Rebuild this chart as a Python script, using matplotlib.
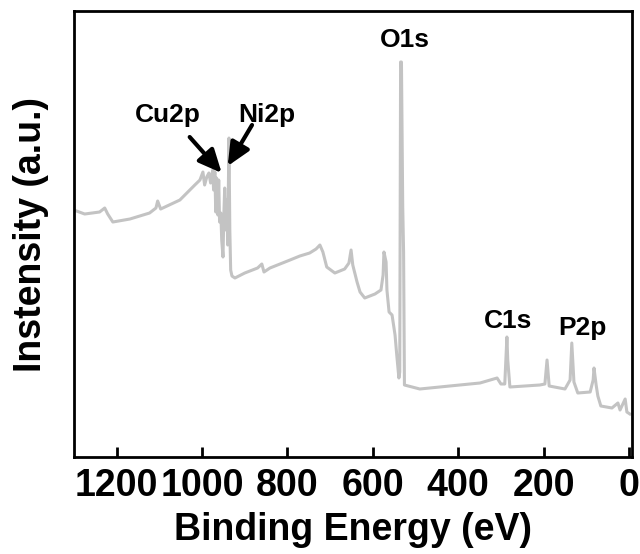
import matplotlib
matplotlib.use("Agg")
import matplotlib.pyplot as plt

# XPS survey spectrum
binding_energy = [
    1294, 1275, 1240, 1228, 1221, 1209, 1169, 1123, 1108, 1104, 1097, 1052,
    1017, 1005, 998, 994, 989, 984, 980, 975, 973, 970, 968, 966, 963, 961,
    959, 956, 954, 951, 949, 947, 944, 942, 940, 937, 935, 933, 930, 923,
    900, 870, 860, 855, 841, 794, 771, 748, 733, 724, 717, 708, 689, 666,
    656, 651, 647, 637, 630, 619, 595, 581, 576, 574, 569, 567, 562, 555,
    548, 544, 539, 537, 535, 533, 530, 528, 526, 490, 420, 349, 309, 300,
    291, 286, 284, 279, 209, 197, 192, 187, 150, 138, 134, 129, 120, 91,
    84, 82, 77, 73, 66, 40, 26, 21, 9, 5, -2,
]
intensity = [
    246, 243, 245, 249, 243, 235, 238, 244, 249, 256, 248, 257,
    272, 277, 285, 272, 280, 284, 274, 287, 267, 285, 245, 279, 242, 277,
    235, 244, 217, 200, 242, 269, 227, 257, 212, 319, 227, 187, 181, 179,
    184, 189, 193, 185, 189, 197, 201, 204, 208, 212, 205, 190, 184, 188,
    194, 207, 192, 175, 165, 159, 163, 167, 182, 205, 195, 167, 145, 142,
    122, 102, 79, 85, 395, 395, 250, 205, 72, 68, 71, 74, 79, 73,
    73, 120, 97, 70, 72, 73, 97, 71, 68, 77, 114, 75, 64, 65,
    77, 89, 72, 61, 51, 49, 54, 47, 58, 45, 43,
]

peak_labels = ["Cu2p", "Ni2p", "O1s", "C1s", "P2p"]
label_be = [1080, 848, 525, 284, 110]
label_int = [335, 335, 410, 129, 122]

# arrows for the overlapping Cu/Ni region: (tail BE, tail I, head BE, head I)
arrows = [(1029, 320, 954, 284), (883, 332, 940, 291)]

plt.rcParams["font.family"] = ["Liberation Sans", "DejaVu Sans"]
plt.rcParams["font.weight"] = "bold"

fig = plt.figure(figsize=(6.4, 5.54), dpi=100)
ax = fig.add_axes([0.1156, 0.1751, 0.8719, 0.8050])

ax.plot(binding_energy, intensity, color="#c3c3c3", lw=2.2)

for name, xb, yi in zip(peak_labels, label_be, label_int):
    ax.text(xb, yi, name, ha="center", va="baseline", fontsize=19,
            fontweight="bold")

for x0, y0, x1, y1 in arrows:
    ax.annotate("", xy=(x1, y1), xytext=(x0, y0),
                arrowprops=dict(arrowstyle="-|>,head_length=0.7,head_width=0.32",
                                color="black", lw=3, mutation_scale=20,
                                shrinkA=0, shrinkB=0))

ax.set_xlim(1300, -7)
ax.set_ylim(0, 446)
ax.set_xticks([1200, 1000, 800, 600, 400, 200, 0])
ax.set_yticks([])
ax.tick_params(axis="x", direction="in", length=7, width=2, pad=8,
               labelsize=27)
for lbl in ax.get_xticklabels():
    lbl.set_fontweight("bold")
for sp in ax.spines.values():
    sp.set_linewidth(2)

ax.set_xlabel("Binding Energy (eV)", fontsize=27, fontweight="bold", labelpad=6)
ax.set_ylabel("Instensity (a.u.)", fontsize=27, fontweight="bold", labelpad=18)

fig.savefig("out.png", dpi=100)
